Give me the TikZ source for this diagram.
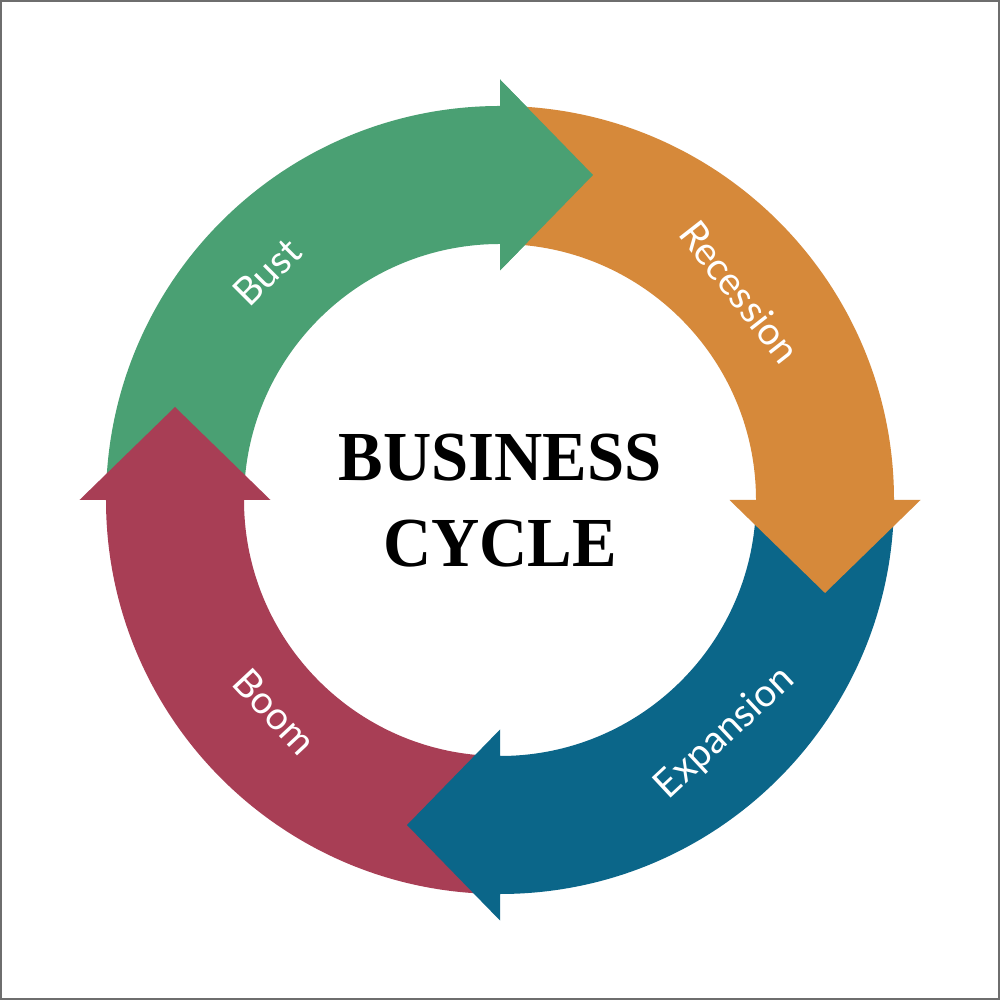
\documentclass[tikz,border=0pt]{standalone}
\usepackage{fontspec}
\setmainfont{Liberation Serif}
\newfontfamily\seglabelfont{Lato}
\definecolor{cgreen}{HTML}{4AA073}
\definecolor{corange}{HTML}{D6893A}
\definecolor{cblue}{HTML}{0B6689}
\definecolor{cred}{HTML}{A83E55}
\definecolor{cframe}{HTML}{6E6E6E}
\def\outerR{3.94}
\def\innerR{2.56}
\def\midR{3.25}
\def\headtop{4.205}
\def\headbot{2.295}
\def\headlen{0.93}
\newcommand{\ringarrow}[2]{%
  \begin{scope}[rotate=#1]
    \fill[#2] (180:\outerR) arc[start angle=180, end angle=90, radius=\outerR]
      -- (0,\headtop) -- (\headlen,\midR) -- (0,\headbot)
      -- (0,\innerR) arc[start angle=90, end angle=180, radius=\innerR] -- cycle;
  \end{scope}}
\newcommand{\ringhead}[2]{%
  \begin{scope}[rotate=#1]
    \fill[#2] (0,\headtop) -- (\headlen,\midR) -- (0,\headbot) -- cycle;
  \end{scope}}
\tikzset{
  seglabel/.style={text=white, font=\seglabelfont\fontsize{11}{13}\selectfont, inner sep=0pt},
  titletext/.style={font=\bfseries\fontsize{20}{24}\selectfont, text=black, inner sep=0pt},
  frameline/.style={draw=cframe, line width=0.55pt}
}
\begin{document}
\begin{tikzpicture}
\useasboundingbox (-5,-5) rectangle (5,5);
\fill[white] (-5,-5) rectangle (5,5);
\draw[frameline] (-4.99,-4.99) rectangle (4.99,4.99);
% arrows (cyclic overlap: green head redrawn last)
\ringarrow{0}{cgreen}
\ringarrow{90}{cred}
\ringarrow{180}{cblue}
\ringarrow{270}{corange}
\ringhead{0}{cgreen}
% labels
\node[seglabel, rotate=45] (bust) at (-2.33,2.28) {Bust};
\node[seglabel, rotate=-52] (recession) at (2.40,2.08) {Recession};
\node[seglabel, rotate=43] (expansion) at (2.25,-2.33) {Expansion};
\node[seglabel, rotate=-47] (boom) at (-2.25,-2.12) {Boom};
% title
\node[titletext] (title1) at (0,0.42) {\scalebox{0.95}[1]{BUSINESS}};
\node[titletext] (title2) at (0,-0.44) {\scalebox{0.95}[1]{CYCLE}};
\end{tikzpicture}
\end{document}
